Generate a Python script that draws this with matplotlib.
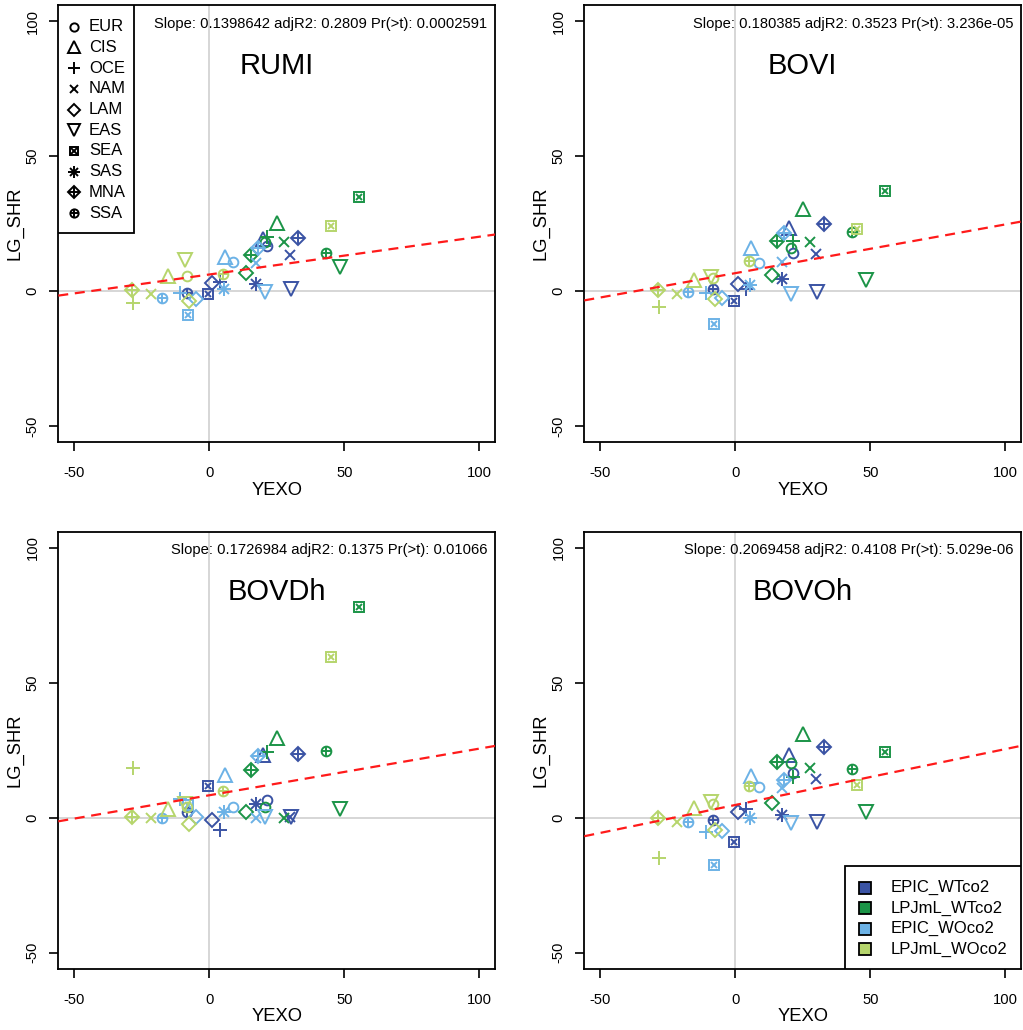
import numpy as np
import matplotlib
matplotlib.use('Agg')
import matplotlib.pyplot as plt
from matplotlib.patches import Rectangle

plt.rcParams['font.family'] = ['Liberation Sans', 'DejaVu Sans']
plt.rcParams['axes.unicode_minus'] = False

regions = ['EUR', 'CIS', 'OCE', 'NAM', 'LAM', 'EAS', 'SEA', 'SAS', 'MNA', 'SSA']
models = ['EPIC_WTco2', 'LPJmL_WTco2', 'EPIC_WOco2', 'LPJmL_WOco2']
colors = ['#3a53a4', '#1b9447', '#6cb2e6', '#b6d56c']

# YEXO per model (same x in every panel), order = regions
yexo_epic_wt = [21.2, 19.8, 3.8, 29.9, 1.1, 30.4, -0.4, 17.2, 33.0, -8.4]
yexo_lpj_wt = [20.6, 25.2, 21.5, 27.7, 13.6, 48.4, 55.4, np.nan, 15.3, 43.2]
yexo_epic_wo = [8.9, 5.7, -10.9, 17.3, -5.1, 20.7, -8.1, 5.6, 17.9, -17.6]
yexo_lpj_wo = [-8.4, -15.4, -28.3, -21.6, -7.4, -8.9, 45.2, np.nan, -28.8, 5.2]

# LG_SHR per panel and model
rumi_epic_wt = [16.7, 19.1, 3.3, 13.3, 2.9, 0.6, -1.2, 2.5, 19.5, -0.6]
rumi_lpj_wt = [18.0, 25.1, 20.1, 18.2, 6.6, 8.7, 34.7, np.nan, 13.2, 14.0]
rumi_epic_wo = [10.9, 12.4, -0.9, 10.5, -3.1, -0.5, -9.0, 0.9, 16.1, -2.7]
rumi_lpj_wo = [5.7, 5.6, -4.6, -1.2, -3.7, 11.4, 24.0, np.nan, 0.3, 6.1]

bovi_epic_wt = [14.0, 23.5, 0.6, 13.6, 2.5, -0.4, -3.7, 4.6, 24.7, 0.9]
bovi_lpj_wt = [16.1, 30.3, 18.5, 18.1, 5.9, 4.0, 37.2, np.nan, 18.5, 21.9]
bovi_epic_wo = [10.3, 16.1, -0.6, 10.7, -2.8, -1.2, -12.3, 2.1, 21.6, -0.4]
bovi_lpj_wo = [4.7, 4.0, -6.0, -1.2, -3.1, 5.0, 23.1, np.nan, 0.3, 11.1]

bovdh_epic_wt = [6.4, 23.2, -4.5, 0.4, -1.0, 0.4, 11.7, 5.0, 23.5, 2.1]
bovdh_lpj_wt = [4.0, 29.4, 24.4, -0.2, 2.2, 3.3, 78.0, np.nan, 17.7, 24.6]
bovdh_epic_wo = [4.0, 15.8, 6.8, 0.0, 0.4, 0.3, 4.5, 2.2, 22.7, -0.2]
bovdh_lpj_wo = [4.0, 3.1, 18.3, -0.2, -2.5, 5.0, 59.6, np.nan, 0.3, 9.9]

bovoh_epic_wt = [16.4, 23.2, 3.3, 14.2, 2.1, -1.6, -8.9, 1.0, 26.3, -0.9]
bovoh_lpj_wt = [20.1, 30.9, 15.2, 18.3, 5.3, 2.1, 24.3, np.nan, 20.7, 18.1]
bovoh_epic_wo = [11.5, 15.4, -5.5, 11.1, -4.9, -2.1, -17.5, -0.2, 13.9, -1.5]
bovoh_lpj_wo = [5.0, 3.7, -15.0, -1.5, -4.7, 5.9, 12.1, np.nan, 0.0, 11.7]

panel_names = ['RUMI', 'BOVI', 'BOVDh', 'BOVOh']
slope_text = ['Slope: 0.1398642 adjR2: 0.2809 Pr(>t): 0.0002591',
              'Slope: 0.180385 adjR2: 0.3523 Pr(>t): 3.236e-05',
              'Slope: 0.1726984 adjR2: 0.1375 Pr(>t): 0.01066',
              'Slope: 0.2069458 adjR2: 0.4108 Pr(>t): 5.029e-06']
slopes = [0.1398642, 0.180385, 0.1726984, 0.2069458]
intercepts = [6.1, 6.6, 8.3, 4.7]

xs = [yexo_epic_wt, yexo_lpj_wt, yexo_epic_wo, yexo_lpj_wo]
ys = [[rumi_epic_wt, rumi_lpj_wt, rumi_epic_wo, rumi_lpj_wo],
      [bovi_epic_wt, bovi_lpj_wt, bovi_epic_wo, bovi_lpj_wo],
      [bovdh_epic_wt, bovdh_lpj_wt, bovdh_epic_wo, bovdh_lpj_wo],
      [bovoh_epic_wt, bovoh_lpj_wt, bovoh_epic_wo, bovoh_lpj_wo]]

# R-like pch symbols built from layered matplotlib markers
symbols = {
    'EUR': [('o', 7)],
    'CIS': [('^', 9.5)],
    'OCE': [('+', 10)],
    'NAM': [('x', 7.5)],
    'LAM': [('D', 7)],
    'EAS': [('v', 9.5)],
    'SEA': [('s', 7), ('x', 5)],
    'SAS': [('+', 9.5), ('x', 7)],
    'MNA': [('D', 7), ('+', 9.5)],
    'SSA': [('o', 7), ('+', 7)],
}


def draw_sym(ax, x, y, reg, col, **kw):
    for m, s in symbols[reg]:
        ax.plot(x, y, linestyle='none', marker=m, markersize=s,
                markerfacecolor='none', markeredgecolor=col,
                markeredgewidth=1.4, **kw)


W, H = 1023, 1030
fig = plt.figure(figsize=(W / 100, H / 100), dpi=100)
boxes = [(58.3, 5.0), (584.3, 5.0), (58.3, 531.7), (584.3, 531.7)]
side = 437.0

for p in range(4):
    left, top = boxes[p]
    ax = fig.add_axes([left / W, 1 - (top + side) / H, side / W, side / H])
    ax.set_xlim(-56, 106)
    ax.set_ylim(-56, 106)
    ax.axhline(0, color='#d3d3d3', lw=1.3, zorder=0)
    ax.axvline(0, color='#d3d3d3', lw=1.3, zorder=0)

    for m in range(4):
        for i, reg in enumerate(regions):
            if np.isnan(xs[m][i]) or np.isnan(ys[p][m][i]):
                continue
            draw_sym(ax, xs[m][i], ys[p][m][i], reg, colors[m])

    xl = np.array([-56, 106])
    ax.plot(xl, intercepts[p] + slopes[p] * xl, color='#ff1a1a', lw=1.6,
            dashes=(4.5, 3), zorder=5)

    ax.text(103, 97.6, slope_text[p], ha='right', va='baseline', fontsize=10.6)
    ax.text(25, 80.6, panel_names[p], ha='center', va='baseline', fontsize=21)

    ax.set_xticks([-50, 0, 50, 100])
    ax.set_yticks([-50, 0, 50, 100])
    ax.tick_params(length=6.5, width=1.2, labelsize=10.6)
    ax.tick_params(axis='x', pad=11)
    ax.tick_params(axis='y', pad=7)
    plt.setp(ax.get_yticklabels(), rotation=90, va='center')
    for sp in ax.spines.values():
        sp.set_linewidth(1.3)
    ax.set_xlabel('YEXO', fontsize=13.2)
    ax.set_ylabel('LG_SHR', fontsize=13.2)
    ax.xaxis.set_label_coords(0.5, -0.091)
    ax.yaxis.set_label_coords(-0.08, 0.5)

    if p == 0:
        # region legend, upper left
        ax.add_patch(Rectangle((0, 1 - 228.3 / side), 76 / side, 228.3 / side,
                               transform=ax.transAxes, facecolor='white',
                               edgecolor='black', lw=1.3, zorder=6))
        for i, reg in enumerate(regions):
            yy = 1 - (21.7 + 20.7 * i) / side
            for mk, s in symbols[reg]:
                ax.plot(0.0352, yy, transform=ax.transAxes, linestyle='none',
                        marker=mk, markersize=s * 0.85, markerfacecolor='none',
                        markeredgecolor='black', markeredgewidth=1.4,
                        zorder=7, clip_on=False)
            ax.text(0.0703, yy, reg, transform=ax.transAxes, ha='left',
                    va='center', fontsize=12, zorder=7)
    if p == 3:
        # model legend, lower right
        bx = (845 - 584.3) / side
        bh = (968.3 - 866) / side
        ax.add_patch(Rectangle((bx, 0), 1 - bx, bh, transform=ax.transAxes,
                               facecolor='white', edgecolor='black', lw=1.3,
                               zorder=6))
        for i, mod in enumerate(models):
            yy = (968.3 - (887.5 + 20.4 * i)) / side
            ax.plot((865 - 584.3) / side, yy, transform=ax.transAxes,
                    linestyle='none', marker='s', markersize=8,
                    markerfacecolor=colors[i], markeredgecolor='black',
                    markeredgewidth=1.3, zorder=7)
            ax.text((890.7 - 584.3) / side, yy, mod, transform=ax.transAxes,
                    ha='left', va='center', fontsize=12, zorder=7)

fig.savefig('out.png', dpi=100)
